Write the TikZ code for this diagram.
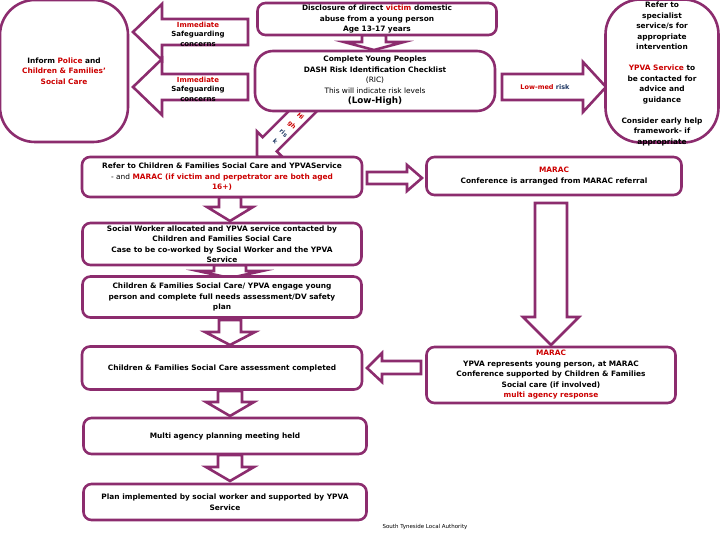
\documentclass[tikz,border=0pt]{standalone}
\usepackage{fontspec}
\setmainfont{DejaVu Sans}
\usepackage{xcolor}
\usepackage{tikz}
\definecolor{plum}{RGB}{140,44,110}
\definecolor{alertred}{RGB}{204,0,0}
\definecolor{navyblue}{RGB}{31,56,100}

\begin{document}
\begin{tikzpicture}[x=1pt, y=-1pt,
    box/.style={draw=plum, line width=2.6pt, fill=white, rounded corners=8pt, inner sep=1pt, align=center, font=\fontsize{7.4}{10.5}\selectfont\bfseries},
    blk/.style={draw=plum, line width=2.6pt, fill=white, line join=miter},
    txt/.style={align=center, inner sep=0pt, font=\fontsize{7.4}{10.5}\selectfont\bfseries}]
    \useasboundingbox (0,0) rectangle (720,540);
    % block arrows first, the boxes sit on top of them
    \draw[blk] (248,19) -- (162,19) -- (162,4) -- (133,32) -- (162,60) -- (162,45) -- (248,45) -- cycle;
    \draw[blk] (248,74) -- (162,74) -- (162,59) -- (133,87) -- (162,115) -- (162,100) -- (248,100) -- cycle;
    \draw[blk] (362,35) -- (362,42) -- (344,42) -- (374,50) -- (404,42) -- (386,42) -- (386,35) -- cycle;
    \draw[blk] (502,74) -- (583,74) -- (583,62) -- (606,87) -- (583,112) -- (583,100) -- (502,100) -- cycle;
    \begin{scope}[shift={(257,157)}, rotate=225]
      \draw[blk] (0,0) -- (-18,-18) -- (-18,-10) -- (-75,-10) -- (-75,10) -- (-18,10) -- (-18,18) -- cycle;
    \end{scope}
    \draw[blk] (367,172) -- (407,172) -- (407,165) -- (422,178) -- (407,191) -- (407,184) -- (367,184) -- cycle;
    \draw[blk] (535,203) -- (535,317) -- (523,317) -- (551,345) -- (579,317) -- (567,317) -- (567,203) -- cycle;
    \draw[blk] (421,361) -- (382,361) -- (382,353) -- (367,368) -- (382,382) -- (382,374) -- (421,374) -- cycle;
    \draw[blk] (219,197) -- (219,207) -- (207,207) -- (230,221) -- (253,207) -- (241,207) -- (241,197) -- cycle;
    \draw[blk] (214,265) -- (214,271) -- (198,271) -- (230,278) -- (262,271) -- (246,271) -- (246,265) -- cycle;
    \draw[blk] (219,320) -- (219,332) -- (205,332) -- (230,345) -- (255,332) -- (241,332) -- (241,320) -- cycle;
    \draw[blk] (218,391) -- (218,402) -- (206,402) -- (230,416) -- (254,402) -- (242,402) -- (242,391) -- cycle;
    \draw[blk] (218,455) -- (218,467) -- (206,467) -- (230,481) -- (254,467) -- (242,467) -- (242,455) -- cycle;

    % boxes
    \node[box, rounded corners=35pt, minimum width=128pt, minimum height=142pt] (inform) at (64,71)
      {Inform {\color{alertred}Police} and\\ {\color{alertred}Children \& Families'}\\ {\color{alertred}Social Care}};
    \node[box, minimum width=239pt, minimum height=32pt] (disclosure) at (377,19)
      {Disclosure of direct {\color{alertred}victim} domestic\\ abuse from a young person\\ Age 13-17 years};
    \node[box, rounded corners=18pt, minimum width=240pt, minimum height=60pt] (ric) at (375,81)
      {Complete Young Peoples\\ DASH Risk Identification Checklist\\ {\mdseries (RIC)}\\ {\mdseries This will indicate risk levels}\\ {\fontsize{8.8}{11}\selectfont (Low-High)}};
    \node[box, rounded corners=35pt, minimum width=113pt, minimum height=143pt] (specialist) at (662,71) {};
    \node[box, minimum width=280pt, minimum height=40pt] (referCSC) at (222,177)
      {Refer to Children \& Families Social Care and YPVAService\\ {\mdseries - and} {\color{alertred}MARAC (if victim and perpetrator are both aged}\\ {\color{alertred}16+)}};
    \node[box, minimum width=255pt, minimum height=38pt] (maracConf) at (554,176)
      {{\color{alertred}MARAC}\\ Conference is arranged from MARAC referral};
    \node[box, minimum width=279pt, minimum height=42pt] (socialWorker) at (222,244)
      {Social Worker allocated and YPVA service contacted by\\ Children and Families Social Care\\ Case to be co-worked by Social Worker and the YPVA\\ Service};
    \node[box, minimum width=279pt, minimum height=41pt] (engage) at (222,297)
      {Children \& Families Social Care/ YPVA engage young\\ person and complete full needs assessment/DV safety\\ plan};
    \node[box, minimum width=280pt, minimum height=43pt] (assess) at (222,368)
      {Children \& Families Social Care assessment completed};
    \node[box, minimum width=249pt, minimum height=56pt] (maracMeet) at (551,375)
      {{\color{alertred}MARAC}\\ YPVA represents young person, at MARAC\\ Conference supported by Children \& Families\\ Social care (if involved)\\ {\color{alertred}multi agency response}};
    \node[box, minimum width=283pt, minimum height=36pt] (multiAgency) at (225,436)
      {Multi agency planning meeting held};
    \node[box, minimum width=283pt, minimum height=36pt] (plan) at (225,502)
      {Plan implemented by social worker and supported by YPVA\\ Service};

    % texts on the arrows
    \node[txt, font=\fontsize{7}{9.5}\selectfont\bfseries] (safeguardA) at (198,34) {{\color{alertred}Immediate}\\ Safeguarding\\ concerns};
    \node[txt, font=\fontsize{7}{9.5}\selectfont\bfseries] (safeguardB) at (198,89) {{\color{alertred}Immediate}\\ Safeguarding\\ concerns};
    \node[txt, font=\fontsize{6.5}{8}\selectfont\bfseries] (lowmed) at (545,87)
      {{\color{alertred}Low-med} {\color{navyblue}risk}};
    \node[txt, rotate=-45, font=\fontsize{6}{12}\selectfont\bfseries] (highrisk) at (288,129)
      {{\color{alertred}Hi}\\ {\color{alertred}gh}\\ {\color{navyblue}ris}\\ {\color{navyblue}k}};
    \node[txt] (specialistTxt) at (662,74)
      {Refer to\\ specialist\\ service/s for\\ appropriate\\ intervention\\[10.5pt]
       {\color{alertred}YPVA Service} to\\ be contacted for\\ advice and\\ guidance\\[10.5pt]
       Consider early help\\ framework- if\\ appropriate};
    \node[txt, font=\fontsize{5.5}{6}\selectfont] (footer) at (425,527) {South Tyneside Local Authority};
\end{tikzpicture}
\end{document}
